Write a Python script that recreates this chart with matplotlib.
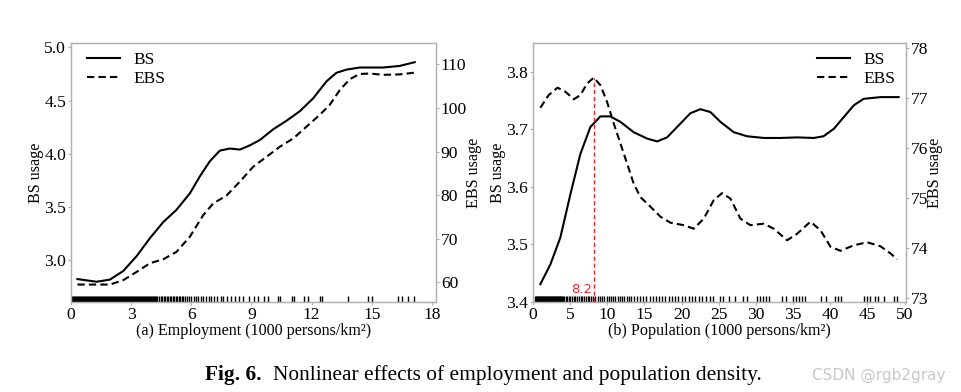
import matplotlib
matplotlib.use("Agg")
import matplotlib.pyplot as plt
import numpy as np

plt.rcParams['font.family'] = ['Liberation Serif', 'DejaVu Serif']

# ---------------- Panel (a) Employment ----------------
emp_x = [0.32, 1.28, 1.94, 2.6, 3.27, 3.94, 4.6, 5.26, 5.93, 6.43, 6.92, 7.42, 7.92, 8.42,
         8.92, 9.42, 10.08, 10.74, 11.41, 12.07, 12.74, 13.23, 13.73, 14.4, 15.56, 16.39, 17.14]
emp_bs = [2.825, 2.80, 2.82, 2.90, 3.04, 3.21, 3.36, 3.475, 3.63, 3.79, 3.93, 4.03, 4.05, 4.04,
          4.08, 4.13, 4.23, 4.31, 4.40, 4.52, 4.68, 4.76, 4.79, 4.81, 4.81, 4.825, 4.86]
emp_x2 = [0.32, 1.94, 2.6, 3.27, 3.94, 4.6, 5.26, 5.93, 6.59, 7.09, 7.75, 8.42, 9.08, 9.75,
          10.41, 11.08, 11.74, 12.4, 12.9, 13.4, 13.9, 14.4, 14.9, 15.56, 16.39, 17.14]
emp_ebs = [59.5, 59.5, 60.5, 62.4, 64.4, 65.3, 67.0, 70.5, 75.4, 78.1, 79.9, 83.1, 86.5, 88.8,
           91.1, 93.0, 95.7, 98.4, 100.7, 104.1, 106.6, 107.8, 107.9, 107.6, 107.7, 108.1]
emp_rug = [0.0, 0.05, 0.1, 0.15, 0.2, 0.25, 0.3, 0.35, 0.4, 0.45, 0.5, 0.55, 0.6, 0.65, 0.7, 0.75,
           0.8, 0.85, 0.9, 0.95, 1.0, 1.05, 1.1, 1.15, 1.2, 1.25, 1.3, 1.35, 1.4, 1.45, 1.5, 1.55,
           1.6, 1.65, 1.7, 1.75, 1.8, 1.85, 1.9, 1.95, 2.0, 2.05, 2.1, 2.15, 2.2, 2.25, 2.3, 2.35,
           2.4, 2.45, 2.5, 2.55, 2.6, 2.65, 2.7, 2.75, 2.8, 2.85, 2.9, 2.95, 3.0, 3.05, 3.1, 3.15,
           3.2, 3.25, 3.3, 3.35, 3.4, 3.45, 3.5, 3.55, 3.6, 3.65, 3.7, 3.75, 3.8, 3.85, 3.9, 3.95,
           4.0, 4.05, 4.1, 4.15, 4.2, 4.25, 4.3, 4.4, 4.48, 4.55, 4.63, 4.7, 4.78, 4.85, 4.93, 5.0,
           5.08, 5.15, 5.23, 5.3, 5.38, 5.45, 5.53, 5.6, 5.7, 5.8, 5.9, 6.0, 6.12, 6.25, 6.35, 6.5,
           6.6, 6.75, 6.9, 7.0, 7.15, 7.3, 7.5, 7.6, 7.8, 8.0, 8.2, 8.4, 8.6, 8.9, 9.1, 9.3, 9.6,
           9.8, 10.3, 10.4, 11.0, 11.1, 11.6, 11.8, 12.4, 12.5, 13.8, 14.8, 15.0, 16.3, 16.5, 16.8, 17.1]
emp_xticks = [0, 3, 6, 9, 12, 15, 18]
emp_bs_ticks = [3.0, 3.5, 4.0, 4.5, 5.0]
emp_ebs_ticks = [60, 70, 80, 90, 100, 110]

# ---------------- Panel (b) Population ----------------
pop_x = [0.99, 2.33, 3.68, 5.03, 6.37, 7.72, 9.07, 10.4, 11.76, 13.55, 15.35, 16.7, 18.04, 19.84,
         21.18, 22.53, 23.88, 25.22, 27.02, 28.8, 31.06, 33.3, 35.55, 37.8, 39.1, 40.5, 41.8,
         43.2, 44.5, 46.8, 49.2]
pop_bs = [3.431, 3.465, 3.512, 3.587, 3.657, 3.704, 3.7225, 3.7225, 3.713, 3.695, 3.684, 3.679,
          3.686, 3.71, 3.728, 3.735, 3.73, 3.713, 3.695, 3.688, 3.685, 3.685, 3.686, 3.685, 3.688,
          3.701, 3.721, 3.742, 3.753, 3.756, 3.756]
pop_x2 = [0.99, 2.1, 3.3, 4.35, 5.5, 6.37, 7.27, 8.17, 9.07, 9.96, 10.86, 11.76, 12.66, 13.55,
          14.45, 15.8, 17.15, 18.5, 20.3, 21.63, 22.98, 24.33, 25.45, 26.57, 27.92, 29.26, 31.06,
          32.4, 34.2, 35.55, 37.34, 38.69, 40.04, 41.38, 43.18, 44.97, 46.77, 48.1, 49.0]
pop_ebs = [76.80, 77.05, 77.2, 77.12, 76.97, 77.05, 77.28, 77.40, 77.25, 76.92, 76.49, 76.09,
           75.69, 75.29, 75.02, 74.83, 74.63, 74.51, 74.46, 74.39, 74.59, 74.96, 75.10, 74.99,
           74.59, 74.46, 74.49, 74.39, 74.16, 74.29, 74.53, 74.36, 74.03, 73.95, 74.06, 74.12,
           74.04, 73.90, 73.78]
pop_rug = [0.3, 0.4, 0.5, 0.6, 0.7, 0.8, 0.9, 1.0, 1.1, 1.2, 1.3, 1.4, 1.5, 1.6, 1.7, 1.8, 1.9,
           2.0, 2.1, 2.2, 2.3, 2.4, 2.5, 2.6, 2.7, 2.8, 2.9, 3.0, 3.1, 3.2, 3.3, 3.4, 3.5, 3.6,
           3.7, 3.8, 3.9, 4.0, 4.2, 4.4, 4.6, 4.8, 5.0, 5.25, 5.5, 5.7, 5.95, 6.2, 6.4, 6.65,
           6.9, 7.1, 7.35, 7.6, 7.85, 8.1, 8.4, 8.7, 9.0, 9.3, 9.6, 9.9, 10.2, 10.5, 10.8, 11.1,
           11.4, 11.7, 12.0, 12.3, 12.6, 12.9, 13.2, 13.6, 14.0, 14.4, 14.8, 15.2, 15.7, 16.1,
           16.5, 17.0, 17.4, 17.8, 18.3, 18.7, 19.1, 19.5, 20.0, 20.5, 21.0, 21.4, 21.8, 22.3,
           22.8, 23.3, 23.8, 24.2, 25.2, 25.6, 26.4, 27.2, 28.2, 28.8, 30.2, 30.6, 31.0, 31.4,
           31.8, 33.5, 34.0, 35.0, 35.4, 35.8, 36.2, 36.6, 38.8, 39.4, 40.6, 41.0, 41.4, 44.6,
           45.0, 45.4, 46.0, 46.4, 47.3, 48.6, 49.0]
pop_xticks = [0, 5, 10, 15, 20, 25, 30, 35, 40, 45, 50]
pop_bs_ticks = [3.4, 3.5, 3.6, 3.7, 3.8]
pop_ebs_ticks = [73, 74, 75, 76, 77, 78]
pop_threshold = 8.2
pop_threshold_ebs = 77.40

SPINE = '#b0b0b0'
TFS = 12.6   # tick labels
LFS = 11.6   # axis labels
GFS = 12.5   # legend

fig = plt.figure(figsize=(9.61, 3.92), dpi=100)
axA = fig.add_axes([71/961, 1-302/392, (436-71)/961, (302-43)/392])
axB = fig.add_axes([533/961, 1-302/392, (906-533)/961, (302-43)/392])


def style(ax):
    for s in ax.spines.values():
        s.set_color(SPINE)
        s.set_linewidth(0.9)
    ax.tick_params(direction='out', length=2.5, width=0.8, color=SPINE,
                   labelsize=TFS, pad=1.0)


def rug(ax, vals):
    ax.vlines(vals, 0, 0.022, transform=ax.get_xaxis_transform(),
              color='black', linewidth=1.0)


def ylab(ax, text, xpos):
    ax.set_ylabel(text, fontsize=LFS)
    ax.yaxis.label.set_va('center')
    ax.yaxis.set_label_coords(xpos, 0.5)


leg_kw = dict(frameon=False, fontsize=GFS, handlelength=1.9, borderaxespad=0.1,
              labelspacing=0.2, handletextpad=0.75)

# Panel A
l1, = axA.plot(emp_x, emp_bs, color='black', lw=1.5, label='BS')
rug(axA, emp_rug)
axA.set_xlim(0, 18.2)
axA.set_ylim(2.61, 5.04)
axA.set_xticks(emp_xticks)
axA.set_yticks(emp_bs_ticks)
axA.set_yticklabels([f'{v:.1f}' for v in emp_bs_ticks])
ylab(axA, 'BS usage', -0.095)
axA.set_xlabel('(a) Employment (1000 persons/km²)', fontsize=LFS, labelpad=0)
axA2 = axA.twinx()
l2, = axA2.plot(emp_x2, emp_ebs, color='black', lw=1.5, ls=(0, (3.5, 2)), label='EBS')
axA2.set_ylim(55.5, 114.9)
axA2.set_yticks(emp_ebs_ticks)
ylab(axA2, 'EBS usage', 1.103)
style(axA)
style(axA2)
axA.legend(handles=[l1, l2], loc='upper left', bbox_to_anchor=(0.02, 1.0), **leg_kw)

# Panel B
m1, = axB.plot(pop_x, pop_bs, color='black', lw=1.5, label='BS')
rug(axB, pop_rug)
axB.set_xlim(0, 50.2)
axB.set_ylim(3.4, 3.85)
axB.set_xticks(pop_xticks)
axB.set_yticks(pop_bs_ticks)
axB.set_yticklabels([f'{v:.1f}' for v in pop_bs_ticks])
ylab(axB, 'BS usage', -0.094)
axB.set_xlabel('(b) Population (1000 persons/km²)', fontsize=LFS, labelpad=0)
axB2 = axB.twinx()
m2, = axB2.plot(pop_x2, pop_ebs, color='black', lw=1.5, ls=(0, (3.5, 2)), label='EBS')
axB2.set_ylim(72.93, 78.09)
axB2.set_yticks(pop_ebs_ticks)
ylab(axB2, 'EBS usage', 1.079)
axB2.plot([pop_threshold, pop_threshold], [72.93, pop_threshold_ebs], color='#e8262a',
          lw=1.0, ls=(0, (3, 2)))
axB2.text(pop_threshold - 0.3, 73.05, f'{pop_threshold}', color='#e8262a', fontsize=9.5,
          family='DejaVu Sans', ha='right', va='bottom')
style(axB)
style(axB2)
axB.legend(handles=[m1, m2], loc='upper right', bbox_to_anchor=(0.995, 1.0), **leg_kw)

# Caption
fig.text(205/961, 1-375/392, 'Fig. 6.', fontsize=15.4, fontweight='bold', va='center', ha='left')
fig.text(273/961, 1-375/392, 'Nonlinear effects of employment and population density.',
         fontsize=15.4, va='center', ha='left')
fig.text(945/961, 1-375/392, 'CSDN @rgb2gray', fontsize=11, color='#c8c8c8',
         family='DejaVu Sans', va='center', ha='right')

fig.savefig('out.png', dpi=100)
